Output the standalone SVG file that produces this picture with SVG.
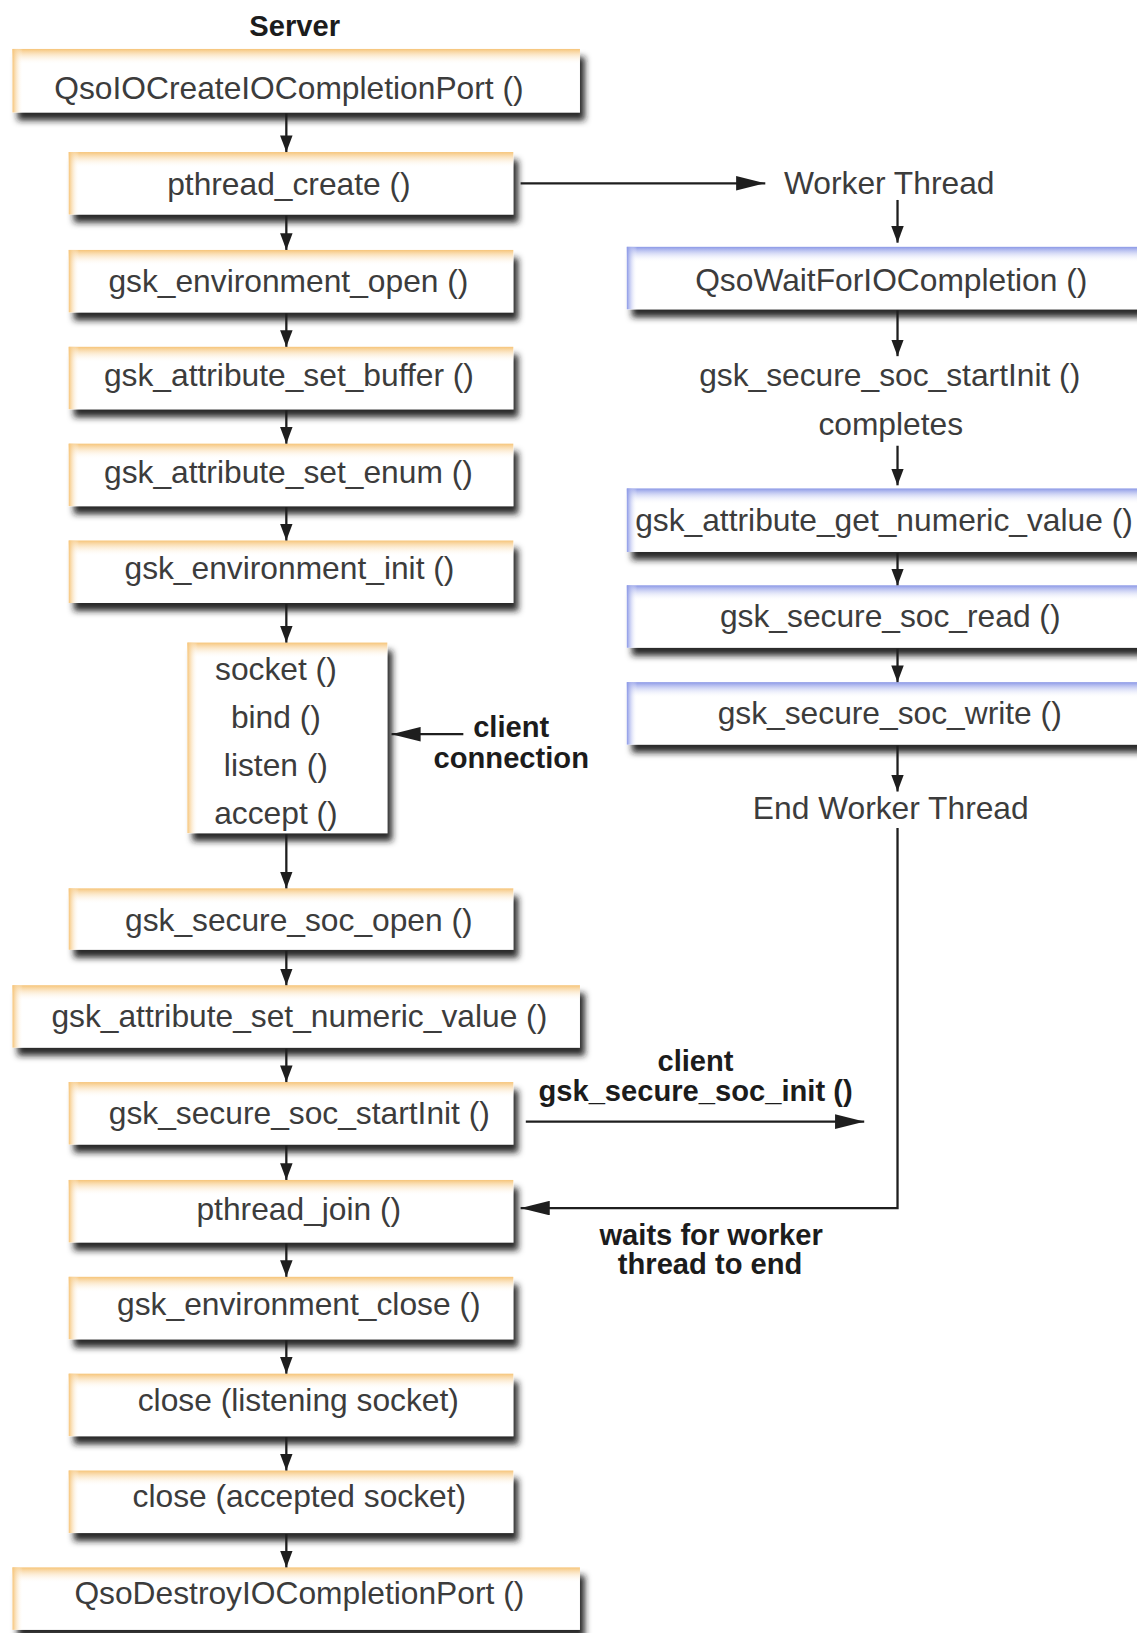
<svg xmlns="http://www.w3.org/2000/svg" width="1137" height="1633" viewBox="0 0 1137 1633">
  <style>
    .box { fill: #ffffff; filter: url(#shadow); }
    .ot { fill: url(#orangeTop); }
    .ol { fill: url(#orangeLeft); }
    .bt { fill: url(#blueTop); }
    .bl { fill: url(#blueLeft); }
    .t { font-family: "Liberation Sans", Arial, sans-serif; font-size: 30.5px; fill: #3c3c3c; text-anchor: middle; }
    .b { font-family: "Liberation Sans", Arial, sans-serif; font-size: 28px; font-weight: bold; fill: #1c1c1c; text-anchor: middle; }
    .c { stroke: #1e1e1e; stroke-width: 2.2; fill: none; }
    .s { marker-end: url(#ah); }
    .l { marker-end: url(#ahl); }
  </style>
  <defs>
    <filter id="shadow" x="-5%" y="-20%" width="115%" height="170%">
      <feGaussianBlur in="SourceAlpha" stdDeviation="3.2" result="blur"/>
      <feOffset in="blur" dx="5" dy="8" result="off"/>
      <feFlood flood-color="#1a1a1a" flood-opacity="0.92"/>
      <feComposite in2="off" operator="in" result="sh"/>
      <feMerge>
        <feMergeNode in="sh"/>
        <feMergeNode in="SourceGraphic"/>
      </feMerge>
    </filter>
    <linearGradient id="orangeTop" x1="0" y1="0" x2="0" y2="1">
      <stop offset="0" stop-color="#f6c478"/>
      <stop offset="1" stop-color="#ffffff" stop-opacity="0"/>
    </linearGradient>
    <linearGradient id="orangeLeft" x1="0" y1="0" x2="1" y2="0">
      <stop offset="0" stop-color="#f6c478"/>
      <stop offset="1" stop-color="#ffffff" stop-opacity="0"/>
    </linearGradient>
    <linearGradient id="blueTop" x1="0" y1="0" x2="0" y2="1">
      <stop offset="0" stop-color="#8a97e6"/>
      <stop offset="1" stop-color="#ffffff" stop-opacity="0"/>
    </linearGradient>
    <linearGradient id="blueLeft" x1="0" y1="0" x2="1" y2="0">
      <stop offset="0" stop-color="#8a97e6"/>
      <stop offset="1" stop-color="#ffffff" stop-opacity="0"/>
    </linearGradient>
    <!-- short head for the vertical flow steps -->
    <marker id="ah" viewBox="0 0 16 12" refX="16" refY="6" markerWidth="16" markerHeight="12" markerUnits="userSpaceOnUse" orient="auto">
      <path d="M0,0 L16,6 L0,12 z" fill="#1e1e1e"/>
    </marker>
    <!-- long head for the horizontal messages -->
    <marker id="ahl" viewBox="0 0 28 14" refX="28" refY="7" markerWidth="28" markerHeight="14" markerUnits="userSpaceOnUse" orient="auto">
      <path d="M0,0 L28,7 L0,14 z" fill="#1e1e1e"/>
    </marker>
  </defs>

  <g transform="scale(1.04121 1.04145)">
    <text class="b" x="283" y="35" font-size="29">Server</text>

    <!-- server column -->
    <g id="n-create-port">
      <rect class="box" x="12" y="47" width="545" height="61"/>
      <rect class="ot" x="12" y="47" width="545" height="15"/>
      <rect class="ol" x="12" y="47" width="10" height="61"/>
      <text class="t" x="277.5" y="95">QsoIOCreateIOCompletionPort ()</text>
    </g>
    <g id="n-pthread-create">
      <rect class="box" x="66" y="146" width="427" height="60"/>
      <rect class="ot" x="66" y="146" width="427" height="15"/>
      <rect class="ol" x="66" y="146" width="10" height="60"/>
      <text class="t" x="277.5" y="187">pthread_create ()</text>
    </g>
    <g id="n-env-open">
      <rect class="box" x="66" y="240" width="427" height="60"/>
      <rect class="ot" x="66" y="240" width="427" height="15"/>
      <rect class="ol" x="66" y="240" width="10" height="60"/>
      <text class="t" x="277" y="280">gsk_environment_open ()</text>
    </g>
    <g id="n-set-buffer">
      <rect class="box" x="66" y="333" width="427" height="60"/>
      <rect class="ot" x="66" y="333" width="427" height="15"/>
      <rect class="ol" x="66" y="333" width="10" height="60"/>
      <text class="t" x="277.5" y="371">gsk_attribute_set_buffer ()</text>
    </g>
    <g id="n-set-enum">
      <rect class="box" x="66" y="426" width="427" height="60"/>
      <rect class="ot" x="66" y="426" width="427" height="15"/>
      <rect class="ol" x="66" y="426" width="10" height="60"/>
      <text class="t" x="277" y="464">gsk_attribute_set_enum ()</text>
    </g>
    <g id="n-env-init">
      <rect class="box" x="66" y="519" width="427" height="60"/>
      <rect class="ot" x="66" y="519" width="427" height="15"/>
      <rect class="ol" x="66" y="519" width="10" height="60"/>
      <text class="t" x="278" y="556">gsk_environment_init ()</text>
    </g>
    <g id="n-socket">
      <rect class="box" x="180" y="617" width="192" height="183"/>
      <rect class="ot" x="180" y="617" width="192" height="15"/>
      <rect class="ol" x="180" y="617" width="10" height="183"/>
      <text class="t" x="265" y="653">socket ()</text>
      <text class="t" x="265" y="699">bind ()</text>
      <text class="t" x="265" y="745">listen ()</text>
      <text class="t" x="265" y="791">accept ()</text>
    </g>
    <g id="n-soc-open">
      <rect class="box" x="66" y="853" width="427" height="59"/>
      <rect class="ot" x="66" y="853" width="427" height="15"/>
      <rect class="ol" x="66" y="853" width="10" height="59"/>
      <text class="t" x="287" y="894">gsk_secure_soc_open ()</text>
    </g>
    <g id="n-set-numeric">
      <rect class="box" x="12" y="946" width="545" height="60"/>
      <rect class="ot" x="12" y="946" width="545" height="15"/>
      <rect class="ol" x="12" y="946" width="10" height="60"/>
      <text class="t" x="287.5" y="986">gsk_attribute_set_numeric_value ()</text>
    </g>
    <g id="n-start-init">
      <rect class="box" x="66" y="1039" width="427" height="60"/>
      <rect class="ot" x="66" y="1039" width="427" height="15"/>
      <rect class="ol" x="66" y="1039" width="10" height="60"/>
      <text class="t" x="287.5" y="1079">gsk_secure_soc_startInit ()</text>
    </g>
    <g id="n-pthread-join">
      <rect class="box" x="66" y="1133" width="427" height="60"/>
      <rect class="ot" x="66" y="1133" width="427" height="15"/>
      <rect class="ol" x="66" y="1133" width="10" height="60"/>
      <text class="t" x="287" y="1171">pthread_join ()</text>
    </g>
    <g id="n-env-close">
      <rect class="box" x="66" y="1226" width="427" height="60"/>
      <rect class="ot" x="66" y="1226" width="427" height="15"/>
      <rect class="ol" x="66" y="1226" width="10" height="60"/>
      <text class="t" x="287" y="1263">gsk_environment_close ()</text>
    </g>
    <g id="n-close-listen">
      <rect class="box" x="66" y="1319" width="427" height="60"/>
      <rect class="ot" x="66" y="1319" width="427" height="15"/>
      <rect class="ol" x="66" y="1319" width="10" height="60"/>
      <text class="t" x="286.5" y="1355">close (listening socket)</text>
    </g>
    <g id="n-close-accept">
      <rect class="box" x="66" y="1412" width="427" height="60"/>
      <rect class="ot" x="66" y="1412" width="427" height="15"/>
      <rect class="ol" x="66" y="1412" width="10" height="60"/>
      <text class="t" x="287.5" y="1447">close (accepted socket)</text>
    </g>
    <g id="n-destroy-port">
      <rect class="box" x="12" y="1505" width="545" height="60"/>
      <rect class="ot" x="12" y="1505" width="545" height="15"/>
      <rect class="ol" x="12" y="1505" width="10" height="60"/>
      <text class="t" x="287.5" y="1540">QsoDestroyIOCompletionPort ()</text>
    </g>

    <!-- worker thread column -->
    <g id="n-worker-start">
      <text class="t" x="854" y="186">Worker Thread</text>
    </g>
    <g id="n-wait">
      <rect class="box" x="602" y="237" width="500" height="60"/>
      <rect class="bt" x="602" y="237" width="500" height="15"/>
      <rect class="bl" x="602" y="237" width="10" height="60"/>
      <text class="t" x="856" y="279">QsoWaitForIOCompletion ()</text>
    </g>
    <g id="n-startinit-done">
      <text class="t" x="854.5" y="371">gsk_secure_soc_startInit ()</text>
      <text class="t" x="855.5" y="418">completes</text>
    </g>
    <g id="n-get-numeric">
      <rect class="box" x="602" y="469" width="500" height="61"/>
      <rect class="bt" x="602" y="469" width="500" height="15"/>
      <rect class="bl" x="602" y="469" width="10" height="61"/>
      <text class="t" x="849" y="510">gsk_attribute_get_numeric_value ()</text>
    </g>
    <g id="n-read">
      <rect class="box" x="602" y="562" width="500" height="60"/>
      <rect class="bt" x="602" y="562" width="500" height="15"/>
      <rect class="bl" x="602" y="562" width="10" height="60"/>
      <text class="t" x="855" y="602">gsk_secure_soc_read ()</text>
    </g>
    <g id="n-write">
      <rect class="box" x="602" y="655" width="500" height="60"/>
      <rect class="bt" x="602" y="655" width="500" height="15"/>
      <rect class="bl" x="602" y="655" width="10" height="60"/>
      <text class="t" x="854.5" y="695">gsk_secure_soc_write ()</text>
    </g>
    <g id="n-worker-end">
      <text class="t" x="855.5" y="786">End Worker Thread</text>
    </g>

    <!-- connectors -->
    <g id="connectors">
      <line class="c s" x1="275" y1="109" x2="275" y2="146"/>
      <line class="c s" x1="275" y1="207" x2="275" y2="240"/>
      <line class="c s" x1="275" y1="301" x2="275" y2="333"/>
      <line class="c s" x1="275" y1="394" x2="275" y2="426"/>
      <line class="c s" x1="275" y1="487" x2="275" y2="519"/>
      <line class="c s" x1="275" y1="580" x2="275" y2="617"/>
      <line class="c s" x1="275" y1="801" x2="275" y2="853"/>
      <line class="c s" x1="275" y1="913" x2="275" y2="946"/>
      <line class="c s" x1="275" y1="1007" x2="275" y2="1039"/>
      <line class="c s" x1="275" y1="1100" x2="275" y2="1133"/>
      <line class="c s" x1="275" y1="1194" x2="275" y2="1226"/>
      <line class="c s" x1="275" y1="1287" x2="275" y2="1319"/>
      <line class="c s" x1="275" y1="1380" x2="275" y2="1412"/>
      <line class="c s" x1="275" y1="1473" x2="275" y2="1505"/>

      <line class="c s" x1="862" y1="192" x2="862" y2="233"/>
      <line class="c s" x1="862" y1="298" x2="862" y2="342"/>
      <line class="c s" x1="862" y1="428" x2="862" y2="466"/>
      <line class="c s" x1="862" y1="531" x2="862" y2="562"/>
      <line class="c s" x1="862" y1="623" x2="862" y2="655"/>
      <line class="c s" x1="862" y1="716" x2="862" y2="760"/>

      <line class="c l" x1="500" y1="176" x2="735" y2="176"/>
      <line class="c l" x1="445" y1="705" x2="376" y2="705"/>
      <line class="c l" x1="505" y1="1077" x2="830" y2="1077"/>
      <polyline class="c l" points="862,795 862,1160 500,1160"/>

      <text class="b" x="491" y="708">client</text>
      <text class="b" x="491" y="737">connection</text>
      <text class="b" x="668" y="1028">client</text>
      <text class="b" x="668" y="1057">gsk_secure_soc_init ()</text>
      <text class="b" x="683" y="1195">waits for worker</text>
      <text class="b" x="682" y="1223">thread to end</text>
    </g>
  </g>
</svg>
